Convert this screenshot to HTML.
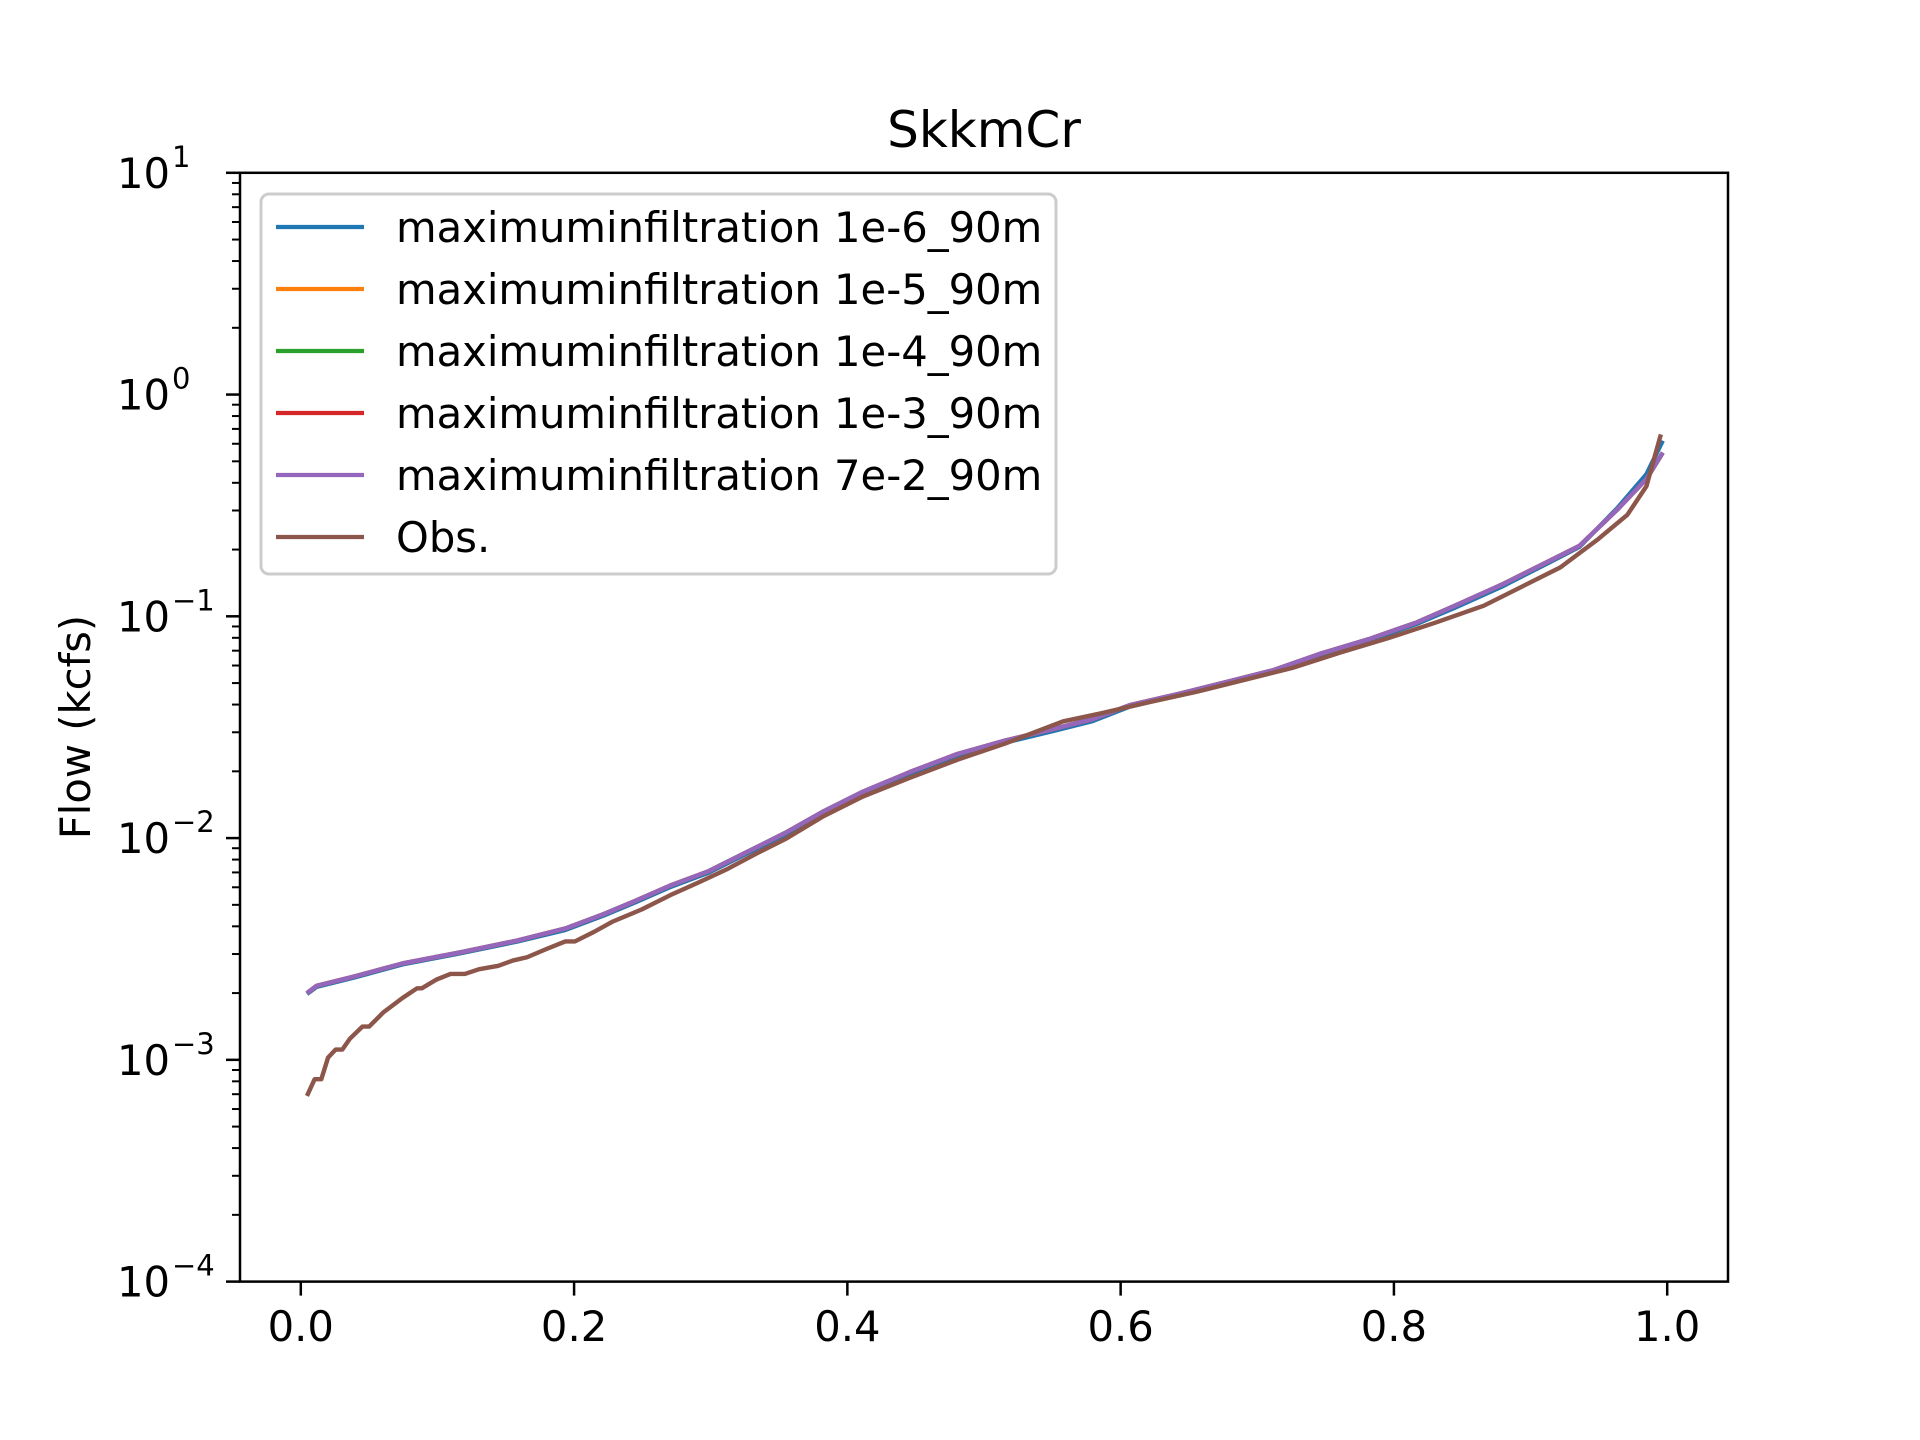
<!DOCTYPE html>
<html><head><meta charset="utf-8"><style>
html,body{margin:0;padding:0;background:#fff}
svg{display:block;font-family:"DejaVu Sans","Liberation Sans",sans-serif}
</style></head><body>
<svg id="s" width="1920" height="1440" viewBox="0 0 1920 1440" xmlns="http://www.w3.org/2000/svg">
<rect width="1920" height="1440" fill="#fff"/>
<text x="984" y="147" font-size="50" text-anchor="middle">SkkmCr</text>
<text transform="translate(90,727) rotate(-90)" font-size="41.7" text-anchor="middle">Flow (kcfs)</text>
<g id="ticks" stroke="#000" stroke-width="2.5"></g>
<g id="labels" font-size="41.7" fill="#000"></g>
<g transform="translate(240,400) scale(0.9568,0.4783)" fill="none" stroke-linejoin="round">
<polyline vector-effect="non-scaling-stroke" stroke-width="4.4" stroke="#1f77b4" points="70,1242 80,1227 120,1207 170,1180 230,1157 290,1132 340,1108 380,1078 410,1053 450,1018 490,988 530,948 570,908 610,863 650,823 700,781 750,743 800,716 850,692 890,672 930,641 980,617 1030,592 1080,567 1130,533 1180,503 1230,468 1270,434 1320,389 1370,338 1400,307 1440,225 1470,155 1487,85"/>
<polyline vector-effect="non-scaling-stroke" stroke-width="4.4" stroke="#ff7f0e" points="70,1240 80,1225 120,1205 170,1178 230,1155 290,1130 340,1105 380,1075 410,1050 450,1015 490,985 530,945 570,905 610,860 650,820 700,778 750,740 800,712 850,688 890,668 930,638 980,615 1030,590 1080,565 1130,530 1180,500 1230,465 1270,430 1320,385 1370,335 1400,305 1440,228 1470,165 1487,110"/>
<polyline vector-effect="non-scaling-stroke" stroke-width="4.4" stroke="#2ca02c" points="70,1240 80,1225 120,1205 170,1178 230,1155 290,1130 340,1105 380,1075 410,1050 450,1015 490,985 530,945 570,905 610,860 650,820 700,778 750,740 800,712 850,688 890,668 930,638 980,615 1030,590 1080,565 1130,530 1180,500 1230,465 1270,430 1320,385 1370,335 1400,305 1440,228 1470,165 1487,110"/>
<polyline vector-effect="non-scaling-stroke" stroke-width="4.4" stroke="#d62728" points="70,1240 80,1225 120,1205 170,1178 230,1155 290,1130 340,1105 380,1075 410,1050 450,1015 490,985 530,945 570,905 610,860 650,820 700,778 750,740 800,712 850,688 890,668 930,638 980,615 1030,590 1080,565 1130,530 1180,500 1230,465 1270,430 1320,385 1370,335 1400,305 1440,228 1470,165 1487,110"/>
<polyline vector-effect="non-scaling-stroke" stroke-width="4.4" stroke="#9467bd" points="70,1240 80,1225 120,1205 170,1178 230,1155 290,1130 340,1105 380,1075 410,1050 450,1015 490,985 530,945 570,905 610,860 650,820 700,778 750,740 800,712 850,688 890,668 930,638 980,615 1030,590 1080,565 1130,530 1180,500 1230,465 1270,430 1320,385 1370,335 1400,305 1440,228 1470,165 1487,110"/>
<polyline vector-effect="non-scaling-stroke" stroke-width="4.4" stroke="#8c564b" points="70,1455 78,1420 85,1420 92,1375 100,1358 107,1358 115,1335 128,1310 135,1310 150,1280 170,1250 185,1230 190,1230 205,1212 220,1200 235,1200 250,1190 270,1183 285,1172 300,1165 320,1148 340,1132 350,1132 370,1112 390,1090 420,1065 450,1035 480,1008 510,980 540,948 570,918 610,870 650,830 700,790 750,752 800,718 860,672 900,655 950,632 1000,610 1050,585 1100,560 1150,528 1200,498 1250,465 1300,430 1340,390 1380,350 1420,290 1450,240 1470,180 1485,72"/>
</g>
<rect x="240" y="172.8" width="1488" height="1108.8" fill="none" stroke="#000" stroke-width="2.5"/>
<g>
<rect x="261" y="194" width="795" height="380" rx="8" fill="#fff" fill-opacity="0.8" stroke="#ccc" stroke-width="3"/>
<g stroke-width="4.2">
<line x1="276" x2="364" y1="227" y2="227" stroke="#1f77b4"/>
<line x1="276" x2="364" y1="289" y2="289" stroke="#ff7f0e"/>
<line x1="276" x2="364" y1="351" y2="351" stroke="#2ca02c"/>
<line x1="276" x2="364" y1="413" y2="413" stroke="#d62728"/>
<line x1="276" x2="364" y1="475" y2="475" stroke="#9467bd"/>
<line x1="276" x2="364" y1="537" y2="537" stroke="#8c564b"/>
</g>
<g font-size="41.7">
<text x="396" y="242">maximuminfiltration 1e-6_90m</text>
<text x="396" y="304">maximuminfiltration 1e-5_90m</text>
<text x="396" y="366">maximuminfiltration 1e-4_90m</text>
<text x="396" y="428">maximuminfiltration 1e-3_90m</text>
<text x="396" y="490">maximuminfiltration 7e-2_90m</text>
<text x="396" y="552">Obs.</text>
</g>
</g>
</svg>
<script>
(function(){
var ns="http://www.w3.org/2000/svg",t=document.getElementById("ticks"),L=document.getElementById("labels");
function ln(x1,y1,x2,y2,w){var l=document.createElementNS(ns,"line");l.setAttribute("x1",x1);l.setAttribute("y1",y1);l.setAttribute("x2",x2);l.setAttribute("y2",y2);if(w)l.setAttribute("stroke-width",w);t.appendChild(l);}
var T=172.8,dec=221.76;
for(var d=0;d<=5;d++){var y=T+d*dec;ln(240,y,226,y);
var tx=document.createElementNS(ns,"text");tx.setAttribute("x",170);tx.setAttribute("y",y+15);tx.setAttribute("text-anchor","end");tx.textContent="10";L.appendChild(tx);
var e=document.createElementNS(ns,"text");e.setAttribute("x",172);e.setAttribute("y",y-6);e.setAttribute("font-size","29");e.textContent=(1-d>=0?"":"\u2212")+Math.abs(1-d);L.appendChild(e);
if(d<5)for(var k=2;k<=9;k++){var yy=T+(d+1)*dec-Math.log10(k)*dec;ln(240,yy,232,yy,2);}}
var x0=300.8,px=1366.4;
for(var i=0;i<=5;i++){var x=x0+i*0.2*px;ln(x,1281.6,x,1295.6);var tx=document.createElementNS(ns,"text");tx.setAttribute("x",x);tx.setAttribute("y",1341);tx.setAttribute("text-anchor","middle");tx.textContent=(i*0.2).toFixed(1);L.appendChild(tx);}
})();
</script>
</body></html>
